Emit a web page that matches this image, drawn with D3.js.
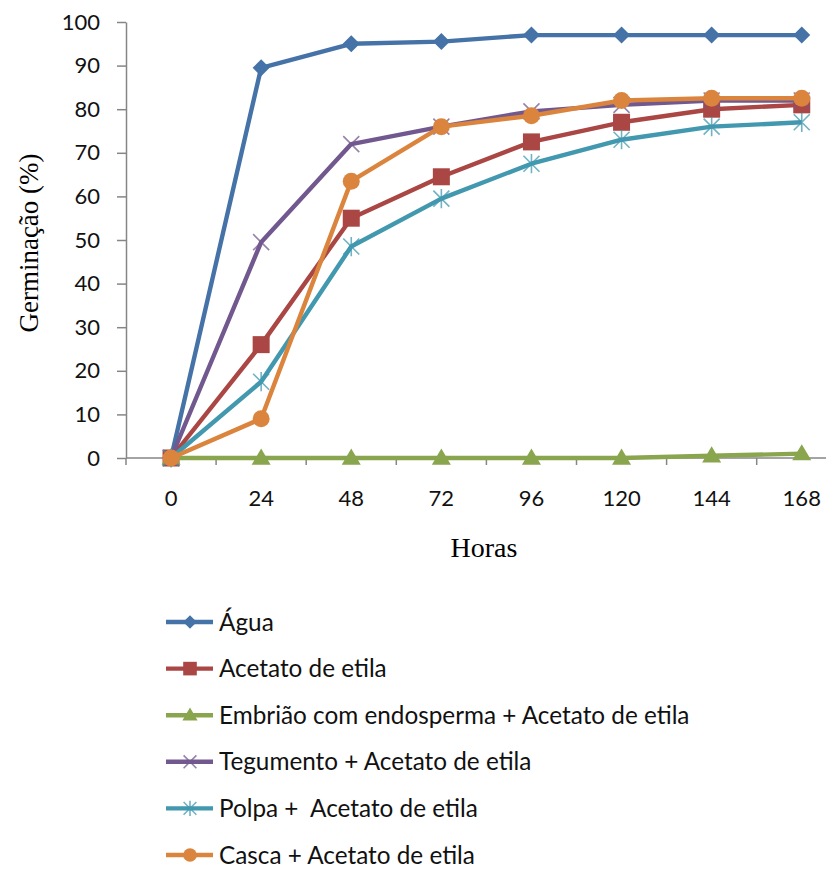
<!DOCTYPE html>
<html>
<head>
<meta charset="utf-8">
<script src="https://cdn.jsdelivr.net/npm/d3@7"></script>
<style>
  html, body { margin: 0; padding: 0; background: #fff; }
  svg { display: block; }
</style>
</head>
<body>
<svg id="chart" width="826" height="870"></svg>
<script>
// Germination (%) over time (hours) for each treatment
const horas = ["0", "24", "48", "72", "96", "120", "144", "168"];
const yTicks = [0, 10, 20, 30, 40, 50, 60, 70, 80, 90, 100];

const agua       = [0, 89.5, 95, 95.5, 97, 97, 97, 97];
const acetato    = [0, 26, 55, 64.5, 72.5, 77, 80, 81];
const embriao    = [0, 0, 0, 0, 0, 0, 0.5, 1];
const tegumento  = [0, 49.5, 72, 76, 79.5, 81, 82, 82];
const polpa      = [0, 17.5, 48.5, 59.5, 67.5, 73, 76, 77];
const casca      = [0, 9, 63.5, 76, 78.5, 82, 82.5, 82.5];

const seriesNames = [
  "Água",
  "Acetato de etila",
  "Embrião com endosperma + Acetato de etila",
  "Tegumento + Acetato de etila",
  "Polpa +  Acetato de etila",
  "Casca + Acetato de etila"
];
const seriesValues = [agua, acetato, embriao, tegumento, polpa, casca];
const seriesColors = ["#4572A7", "#AA4643", "#89A54E", "#71588F", "#4198AF", "#DB843D"];
const seriesMarkers = ["diamond", "square", "triangle", "x", "star", "circle"];

const svg = d3.select("#chart");
const sansFont = "Lato, 'Open Sans', sans-serif";
const serifFont = "'Liberation Serif', 'DejaVu Serif', serif";

const plotLeft = 126, bandW = 90.1;
const x = d3.scaleBand().domain(horas).range([plotLeft, plotLeft + bandW * horas.length]);
const y = d3.scaleLinear().domain([0, 100]).range([458, 22]);
const cx = d => x(d) + x.bandwidth() / 2;

const axisColor = "#868686";

// Y axis
const yAxis = svg.append("g")
  .attr("transform", `translate(${plotLeft},0)`)
  .call(d3.axisLeft(y).tickValues(yTicks).tickSize(9).tickPadding(17).tickSizeOuter(0));
yAxis.select(".domain").attr("stroke", axisColor).attr("stroke-width", 1.5);
yAxis.selectAll(".tick line").attr("stroke", axisColor).attr("stroke-width", 1.5);
yAxis.selectAll("text").attr("font-family", sansFont).attr("font-size", 22).attr("fill", "#111");

// X axis: labels centred in categories, tick marks between categories
const xAxis = svg.append("g")
  .attr("transform", `translate(0,${y(0)})`)
  .call(d3.axisBottom(x).tickSize(0).tickPadding(32).tickSizeOuter(0));
xAxis.select(".domain").remove();
xAxis.selectAll("text").attr("font-family", sansFont).attr("font-size", 22).attr("fill", "#111");
svg.append("line")
  .attr("x1", plotLeft).attr("x2", x.range()[1])
  .attr("y1", y(0)).attr("y2", y(0))
  .attr("stroke", axisColor).attr("stroke-width", 1.5);
const boundaries = horas.map(h => x(h)).concat([x.range()[1]]);
svg.append("g").selectAll("line").data(boundaries).join("line")
  .attr("x1", d => d).attr("x2", d => d)
  .attr("y1", y(0)).attr("y2", y(0) + 7)
  .attr("stroke", axisColor).attr("stroke-width", 1.5);

// Axis titles
svg.append("text")
  .attr("transform", `translate(38,${(y(0) + y(100)) / 2 + 3}) rotate(-90)`)
  .attr("text-anchor", "middle")
  .attr("font-family", serifFont).attr("font-size", 27)
  .text("Germinação (%)");
svg.append("text")
  .attr("x", 484).attr("y", 557)
  .attr("text-anchor", "middle")
  .attr("font-family", serifFont).attr("font-size", 28)
  .text("Horas");

// Marker drawing
function drawMarker(g, type, color, px, py, s) {
  if (type === "diamond") {
    g.append("path")
      .attr("d", `M${px},${py - s}L${px + s},${py}L${px},${py + s}L${px - s},${py}Z`)
      .attr("fill", color);
  } else if (type === "square") {
    g.append("rect").attr("x", px - s).attr("y", py - s).attr("width", 2 * s).attr("height", 2 * s)
      .attr("fill", color);
  } else if (type === "triangle") {
    g.append("path")
      .attr("d", `M${px},${py - s * 1.0}L${px + s},${py + s * 0.7}L${px - s},${py + s * 0.7}Z`)
      .attr("fill", color);
  } else if (type === "circle") {
    g.append("circle").attr("cx", px).attr("cy", py).attr("r", s).attr("fill", color);
  } else if (type === "x") {
    g.append("path")
      .attr("d", `M${px - s},${py - s}L${px + s},${py + s}M${px + s},${py - s}L${px - s},${py + s}`)
      .attr("stroke", color).attr("stroke-width", 1.6).attr("fill", "none").attr("opacity", 0.75);
  } else if (type === "star") {
    g.append("path")
      .attr("d", `M${px - s},${py - s}L${px + s},${py + s}M${px + s},${py - s}L${px - s},${py + s}M${px},${py - s * 1.2}L${px},${py + s * 1.2}`)
      .attr("stroke", color).attr("stroke-width", 1.6).attr("fill", "none").attr("opacity", 0.75);
  }
}
const markerSize = { diamond: 8.5, square: 8.5, triangle: 9.5, circle: 8.5, x: 8, star: 8 };

// Series lines and markers
const line = d3.line().x((d, i) => cx(horas[i])).y(d => y(d));
seriesValues.forEach((vals, k) => {
  const g = svg.append("g");
  g.append("path")
    .attr("d", line(vals))
    .attr("fill", "none")
    .attr("stroke", seriesColors[k])
    .attr("stroke-width", 4.4)
    .attr("stroke-linejoin", "round");
  vals.forEach((v, i) => {
    drawMarker(g, seriesMarkers[k], seriesColors[k], cx(horas[i]), y(v), markerSize[seriesMarkers[k]]);
  });
});

// Legend
const legendY0 = 622, legendStep = 46.6;
const lg = svg.append("g");
seriesNames.forEach((name, k) => {
  const ly = legendY0 + k * legendStep;
  lg.append("line")
    .attr("x1", 166).attr("x2", 213).attr("y1", ly).attr("y2", ly)
    .attr("stroke", seriesColors[k]).attr("stroke-width", 4.4);
  drawMarker(lg, seriesMarkers[k], seriesColors[k], 190, ly, markerSize[seriesMarkers[k]] * 0.8);
  lg.append("text")
    .attr("x", 219).attr("y", ly).attr("dy", "0.35em")
    .attr("font-family", sansFont).attr("font-size", 24.3).attr("fill", "#111")
    .style("white-space", "pre")
    .text(name);
});
</script>
</body>
</html>
